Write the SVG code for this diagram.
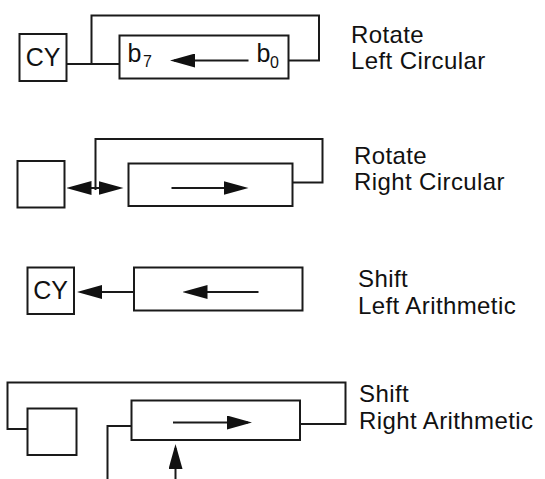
<svg xmlns="http://www.w3.org/2000/svg" width="545" height="479" viewBox="0 0 545 479">
<style>
.box{fill:#fff;stroke:#1a1a1a;stroke-width:2}
.ln{fill:none;stroke:#1a1a1a;stroke-width:2;stroke-linejoin:miter}
.ar{fill:none;stroke:#1a1a1a;stroke-width:2;marker-end:url(#ah)}
.t{font-family:"Liberation Sans",Arial,sans-serif;font-size:25px;fill:#111}
.l{font-family:"Liberation Sans",Arial,sans-serif;font-size:24px;letter-spacing:0.4px;fill:#111}
.s{font-size:16px}
</style>
<defs>
<marker id="ah" viewBox="0 0 25 14" markerWidth="25" markerHeight="14" refX="21" refY="7" orient="auto" markerUnits="userSpaceOnUse">
<path d="M0,0 L25,7 L0,14 Z" fill="#111"/>
</marker>
</defs>
<rect width="545" height="479" fill="#fff"/>

<g id="connectors">
<path class="ln" d="M66.5,64 H119.5"/>
<path class="ln" d="M91.5,64 V15.5 H319 V60.5 H288.5"/>
<path class="ar" d="M248.5,60.5 H174"/>
<path class="ln" d="M95.5,190 V139 H322.5 V182.5 H292.5"/>
<path class="ar" d="M95.5,188 H70.5"/>
<path class="ar" d="M95.5,188 H119.5"/>
<path class="ar" d="M171.5,188 H244.5"/>
<path class="ar" d="M134,292 H81"/>
<path class="ar" d="M258.5,292 H186.5"/>
<path class="ln" d="M300,424 H345.5 V382.5 H7.5 V429 H27.5"/>
<path class="ln" d="M107.5,479 V426 H131.5"/>
<path class="ar" d="M175.5,479 V448"/>
<path class="ar" d="M173,422.5 H248"/>
</g>

<g id="rlc-cy">
<rect class="box" x="19.5" y="34" width="47" height="47"/>
<text class="t" x="43" y="66" text-anchor="middle">CY</text>
</g>
<g id="rlc-reg">
<rect class="box" x="119.5" y="35.5" width="169" height="43" style="fill:none"/>
<text class="t" x="127.5" y="61.5">b<tspan class="s" x="143" y="67">7</tspan></text>
<text class="t" x="256.5" y="61.5">b<tspan class="s" x="270" y="68">0</tspan></text>
</g>
<g id="rlc-label">
<text class="l"><tspan x="351" y="42.5">Rotate</tspan><tspan x="351" y="69.4">Left Circular</tspan></text>
</g>

<g id="rrc-cy">
<rect class="box" x="17.5" y="161" width="47" height="46.5"/>
</g>
<g id="rrc-reg">
<rect class="box" x="128.5" y="163.5" width="164" height="42.5" style="fill:none"/>
</g>
<g id="rrc-label">
<text class="l"><tspan x="354" y="163.5">Rotate</tspan><tspan x="354" y="190.4">Right Circular</tspan></text>
</g>

<g id="sla-cy">
<rect class="box" x="27.5" y="267.5" width="46.5" height="46.5"/>
<text class="t" x="50.5" y="299" text-anchor="middle">CY</text>
</g>
<g id="sla-reg">
<rect class="box" x="134" y="267.5" width="168.5" height="43" style="fill:none"/>
</g>
<g id="sla-label">
<text class="l"><tspan x="358" y="287.3">Shift</tspan><tspan x="358" y="314.2">Left Arithmetic</tspan></text>
</g>

<g id="sra-cy">
<rect class="box" x="27.5" y="408.5" width="49" height="46.5"/>
</g>
<g id="sra-reg">
<rect class="box" x="131.5" y="400.5" width="168.5" height="39.5" style="fill:none"/>
</g>
<g id="sra-label">
<text class="l"><tspan x="359" y="402.3">Shift</tspan><tspan x="359" y="429.2">Right Arithmetic</tspan></text>
</g>
</svg>
